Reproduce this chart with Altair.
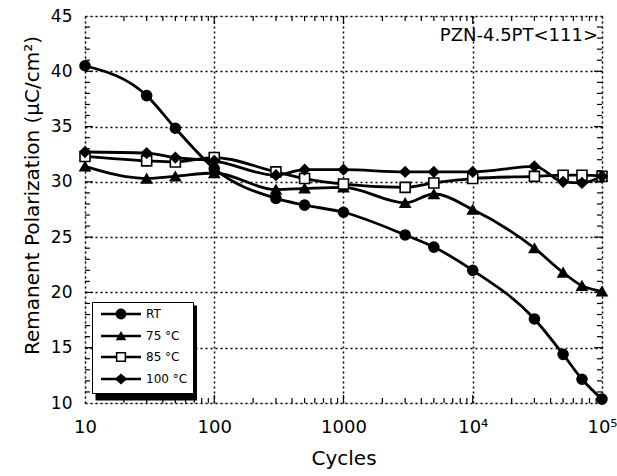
import altair as alt
import pandas as pd

# ---- data ----
cycles = [10, 30, 50, 100, 300, 500, 1000, 3000, 5000, 10000, 30000, 50000, 70000, 100000]
rt_vals = [40.5, 37.8, 34.85, 31.2, 28.5, 27.9, 27.25, 25.2, 24.1, 22.0, 17.6, 14.4, 12.15, 10.35]
c75_vals = [31.4, 30.3, 30.5, 30.8, 29.3, 29.4, 29.5, 28.1, 28.9, 27.5, 24.0, 21.8, 20.6, 20.1]
c85_vals = [32.3, 31.9, 31.8, 32.2, 30.9, 30.3, 29.8, 29.5, 29.9, 30.3, 30.5, 30.6, 30.6, 30.5]
c100_vals = [32.7, 32.6, 32.2, 31.9, 30.6, 31.1, 31.1, 30.9, 30.9, 30.9, 31.4, 30.0, 29.9, 30.5]
series_names = ["RT", "75 °C", "85 °C", "100 °C"]
marker_shapes = ["circle", "triangle-up", "square", "diamond"]
marker_fills = ["black", "black", "white", "black"]
# legend glyphs: a short line with the marker on it (filled outlines only)
legend_paths = [
    "M-3.33,-0.2H3.33V0.2H-3.33ZM-0.9,0A0.9,0.9,0,1,1,0.9,0A0.9,0.9,0,1,1,-0.9,0Z",
    "M-3.33,-0.2H3.33V0.2H-3.33ZM0,-0.85L0.88,0.72L-0.88,0.72Z",
    "M-3.33,-0.2H-0.85V0.2H-3.33ZM0.85,-0.2H3.33V0.2H0.85Z"
    "M-0.85,-0.85H0.85V0.85H-0.85ZM-0.6,-0.6V0.6H0.6V-0.6Z",
    "M-3.33,-0.2H3.33V0.2H-3.33ZM0,-0.9L1.05,0L0,0.9L-1.05,0Z",
]
x_tick_values = [10, 100, 1000, 10000, 100000]
y_tick_values = [10, 15, 20, 25, 30, 35, 40, 45]
x_minor = [m * 10 ** d for d in range(1, 5) for m in range(2, 10)]
x_major = [100, 1000, 10000]
y_minor = [v for v in range(11, 45) if v % 5]
y_major = [15, 20, 25, 30, 35, 40]
annotation = "PZN-4.5PT<111>"

W, H = 517, 387
FONT = "DejaVu Sans"

rows = []
for name, vals in zip(series_names, [rt_vals, c75_vals, c85_vals, c100_vals]):
    for c, v in zip(cycles, vals):
        rows.append({"cycles": c, "P": v, "series": name})
df = pd.DataFrame(rows)

xscale = alt.Scale(type="log", domain=[10, 100000], nice=False)
yscale = alt.Scale(domain=[10, 45], zero=False, nice=False)

xaxis = alt.Axis(
    values=x_tick_values,
    labelExpr="datum.value == 10000 ? '10⁴' : (datum.value == 100000 ? '10⁵' : format(datum.value, 'd'))",
    title="Cycles", grid=True, gridDash=[2, 3], gridColor="black", gridWidth=1.5, gridOpacity=1,
    ticks=False, domain=False, labelFontSize=18, titleFontSize=20, labelFont=FONT, titleFont=FONT,
    labelColor="black", titleColor="black", titleFontWeight="normal", labelPadding=15, titlePadding=12,
    labelFlush=False,
)
yaxis = alt.Axis(
    values=y_tick_values, title="Remanent Polarization (μC/cm²)",
    grid=True, gridDash=[2, 3], gridColor="black", gridWidth=1.5, gridOpacity=1,
    ticks=False, domain=False, labelFontSize=17, titleFontSize=20, labelFont=FONT, titleFont=FONT,
    labelColor="black", titleColor="black", titleFontWeight="normal", labelPadding=13, titlePadding=8,
    titleY=179, labelFlush=False,
)

X = alt.X("cycles:Q", scale=xscale, axis=xaxis)
Y = alt.Y("P:Q", scale=yscale, axis=yaxis)

base = alt.Chart(df)

lines = base.mark_line(interpolate="monotone", color="black", strokeWidth=2.8).encode(
    x=X, y=Y, detail="series:N"
)

point_layers = []
for name, shp, fl in zip(series_names, marker_shapes, marker_fills):
    point_layers.append(
        base.transform_filter(alt.datum.series == name).mark_point(
            shape=shp, filled=True, fill=fl, stroke="black", strokeWidth=1.6, size=100, opacity=1
        ).encode(x=X, y=Y)
    )

leg = alt.Legend(
    title=None, orient="none", legendX=7, legendY=286, strokeColor="black", fillColor="white",
    padding=5, rowPadding=4, symbolSize=144, symbolFillColor="black",
    symbolOffset=17, labelOffset=18,
    labelFont=FONT, labelFontSize=12, labelColor="black", symbolOpacity=1,
)
legend_layer = base.transform_filter("false").mark_point(
    filled=True, opacity=1, color="black", size=144
).encode(
    x=X, y=Y,
    shape=alt.Shape("series:N", scale=alt.Scale(domain=series_names, range=legend_paths), legend=leg),
)

# drop shadow behind the legend box
shadow = alt.Chart(pd.DataFrame({"s": [0]})).mark_rect(color="black").encode(
    x=alt.value(10.5), x2=alt.value(112), y=alt.value(289.5), y2=alt.value(384.5)
)

xt_minor = pd.DataFrame({"cycles": x_minor})
xt_major = pd.DataFrame({"cycles": x_major})
yt_minor = pd.DataFrame({"P": y_minor})
yt_major = pd.DataFrame({"P": y_major})

def xticks(d, L):
    b = alt.Chart(d).mark_rule(color="black", strokeWidth=1.2)
    return (b.encode(x=X, y=alt.value(H), y2=alt.value(H - L)) +
            b.encode(x=X, y=alt.value(0), y2=alt.value(L)))

def yticks(d, L):
    b = alt.Chart(d).mark_rule(color="black", strokeWidth=1.2)
    return (b.encode(y=Y, x=alt.value(0), x2=alt.value(L)) +
            b.encode(y=Y, x=alt.value(W), x2=alt.value(W - L)))

label = alt.Chart(pd.DataFrame({"t": [annotation]})).mark_text(
    align="right", baseline="alphabetic", font=FONT, fontSize=18, color="black"
).encode(text="t:N", x=alt.value(513), y=alt.value(25))

chart = alt.layer(
    xticks(xt_minor, 5), xticks(xt_major, 8), yticks(yt_minor, 5), yticks(yt_major, 8),
    lines, *point_layers, shadow, legend_layer, label,
).properties(
    width=W, height=H,
    autosize=alt.AutoSizeParams(type="none"),
    padding={"left": 85, "top": 16, "right": 15, "bottom": 73},
).configure_view(stroke="black", strokeWidth=2).configure(background="white")

chart.save("out.html", embed_options={"renderer": "svg", "actions": False})
